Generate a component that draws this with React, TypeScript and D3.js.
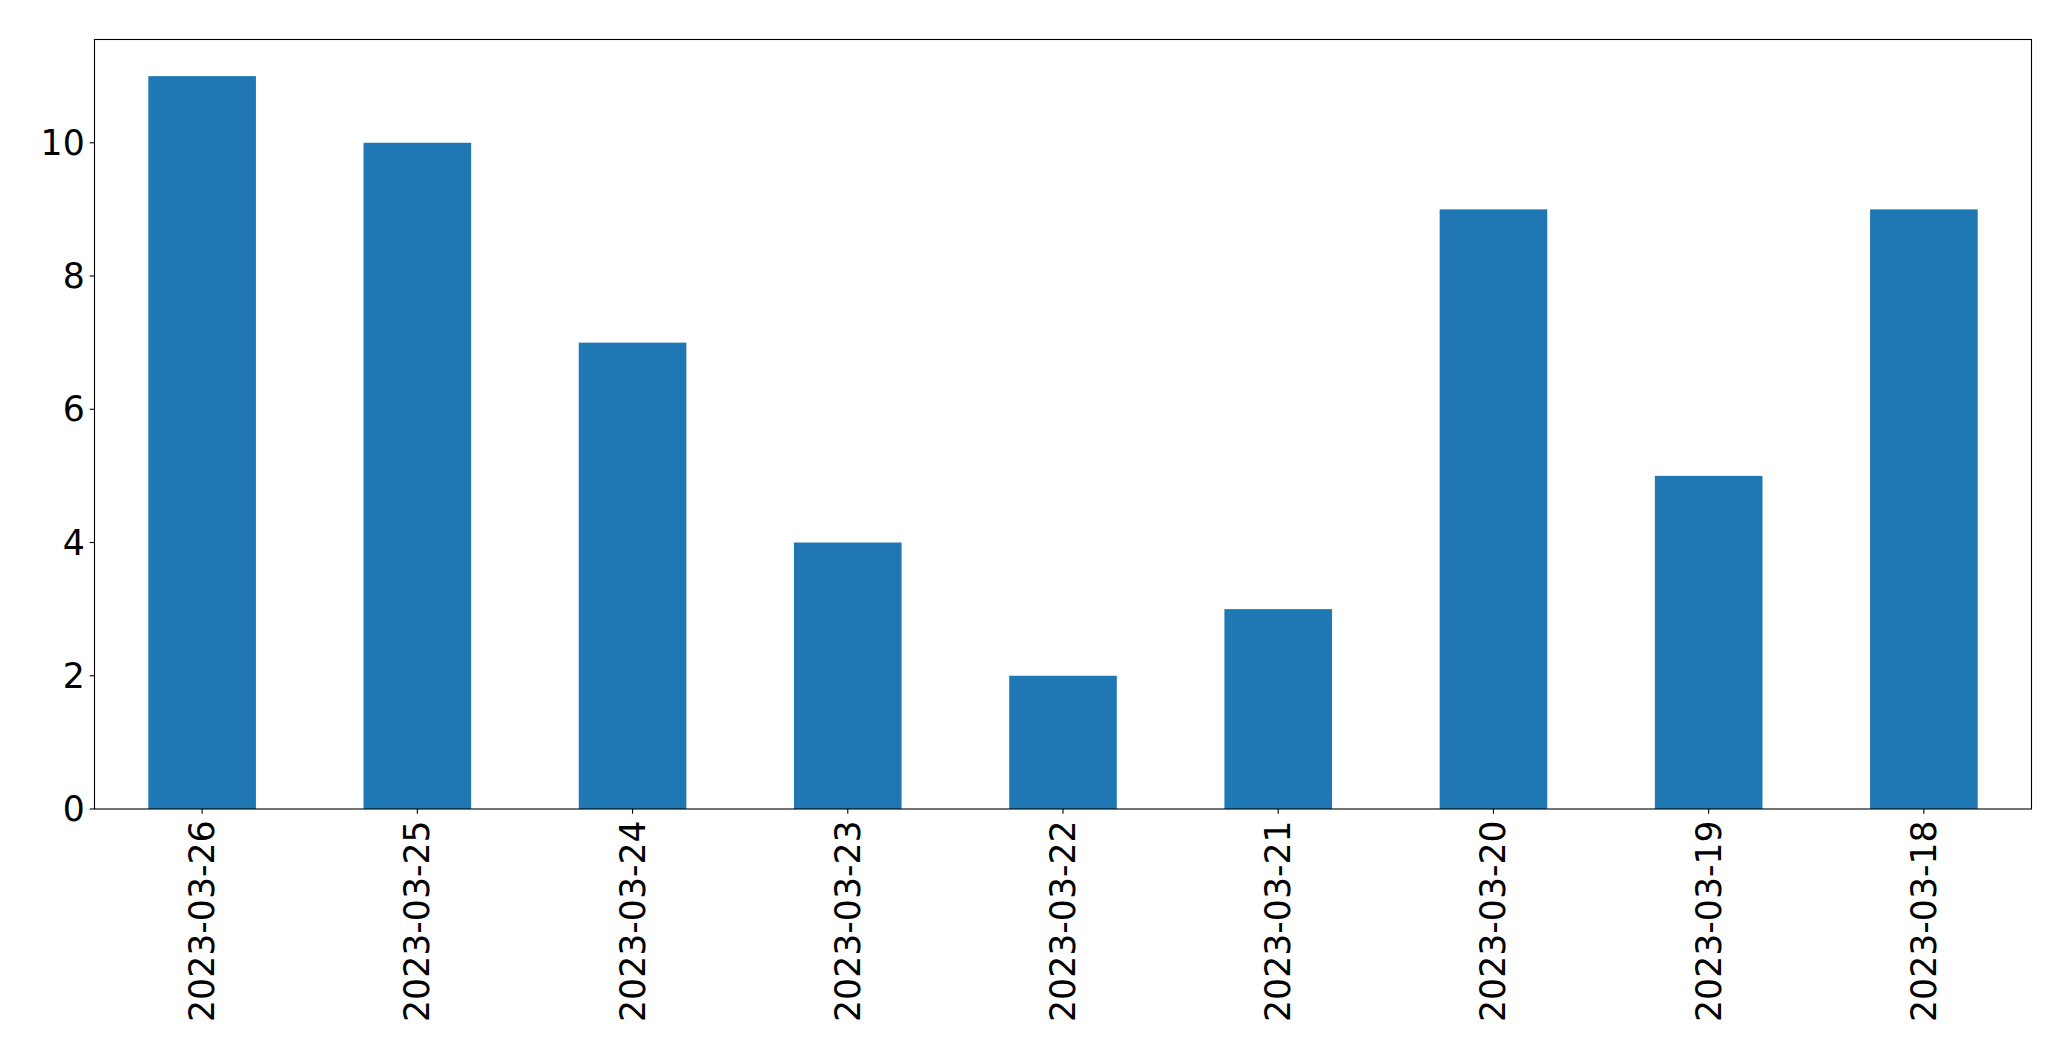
import React, { useEffect } from "react";
import * as d3 from "d3";

const categories = ["2023-03-26", "2023-03-25", "2023-03-24", "2023-03-23", "2023-03-22", "2023-03-21", "2023-03-20", "2023-03-19", "2023-03-18"];
const values = [11, 10, 7, 4, 2, 3, 9, 5, 9];
const yTicks = [0, 2, 4, 6, 8, 10];

const W = 2071;
const H = 1061;
const left = 94.5;
const right = 2031.5;
const top = 39.5;
const bottom = 809;
const font = "'DejaVu Sans', sans-serif";
const fontSize = 34.7;

export default function App() {
  useEffect(() => {
    document.body.style.margin = "0";
  }, []);
  const x = d3.scaleBand<string>().domain(categories).range([left, right]).paddingInner(0.5).paddingOuter(0.25);
  const yMax = d3.max(values)! * 1.05;
  const y = d3.scaleLinear().domain([0, yMax]).range([bottom, top]);
  const tick = 4.86;
  return (
    <svg width={W} height={H} style={{ display: "block", background: "#fff" }}>
      {categories.map((c, i) => (
        <rect key={c} x={x(c)!} y={y(values[i])} width={x.bandwidth()} height={y(0) - y(values[i])} fill="#1f77b4" />
      ))}
      <rect x={left} y={top} width={right - left} height={bottom - top} fill="none" stroke="#000" strokeWidth={1.1} />
      {yTicks.map((t) => (
        <g key={t}>
          <line x1={left - tick} x2={left} y1={y(t)} y2={y(t)} stroke="#000" strokeWidth={1.1} />
          <text x={left - tick - 4.9} y={y(t)} textAnchor="end" dominantBaseline="central" fontFamily={font} fontSize={fontSize} fill="#000">
            {t}
          </text>
        </g>
      ))}
      {categories.map((c) => {
        const cx = x(c)! + x.bandwidth() / 2;
        const ty = bottom + tick + 6.5;
        return (
          <g key={c}>
            <line x1={cx} x2={cx} y1={bottom} y2={bottom + tick} stroke="#000" strokeWidth={1.1} />
            <text transform={`translate(${cx},${ty}) rotate(-90)`} textAnchor="end" dominantBaseline="central" fontFamily={font} fontSize={fontSize} fill="#000">
              {c}
            </text>
          </g>
        );
      })}
    </svg>
  );
}
